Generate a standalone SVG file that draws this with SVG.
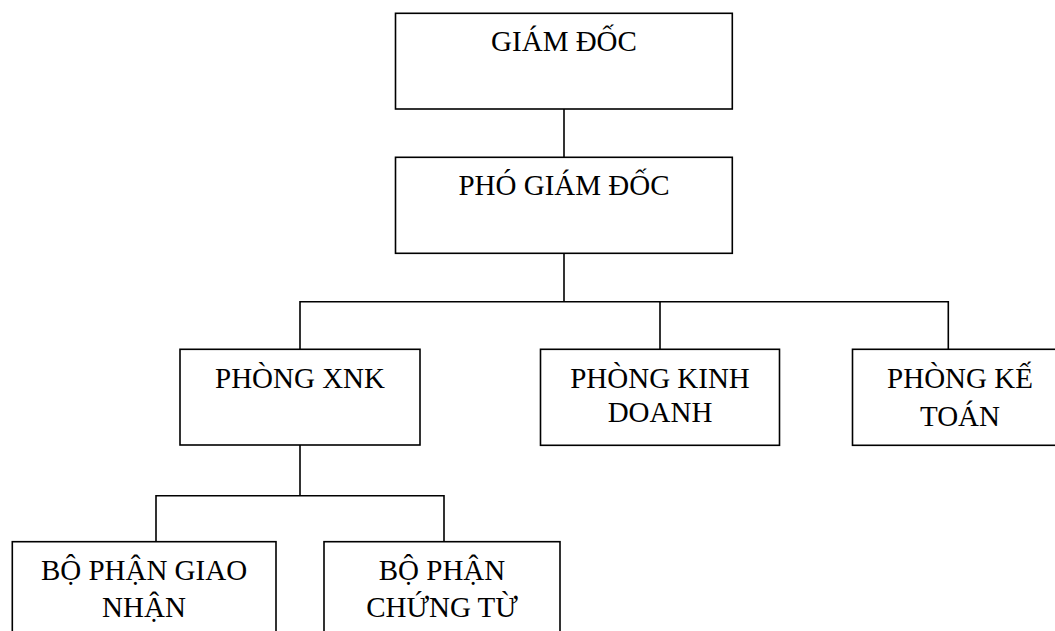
<svg xmlns="http://www.w3.org/2000/svg" width="1055" height="631" viewBox="0 0 1055 631">
<style>
.box{fill:#fff;stroke:#000;stroke-width:1.6}
.con{fill:none;stroke:#000;stroke-width:1.6}
.t{font-family:'Liberation Serif','Times New Roman',serif;font-size:29px;fill:#000;text-anchor:middle}
</style>
<rect width="1055" height="631" fill="#fff"/>
<g id="connectors">
<path class="con" d="M564 109V157.3"/>
<path class="con" d="M564 253.3V301.7"/>
<path class="con" d="M300 349.3V301.7H948.3V349.3"/>
<path class="con" d="M660 301.7V349.3"/>
<path class="con" d="M300 445V495.7"/>
<path class="con" d="M156 541.7V495.7H444V541.7"/>
</g>
<g id="giam-doc">
<rect class="box" x="395.5" y="13.3" width="336.8" height="95.7"/>
<text class="t" x="564" y="51">GIÁM ĐỐC</text>
</g>
<g id="pho-giam-doc">
<rect class="box" x="395.5" y="157.3" width="336.8" height="96"/>
<text class="t" x="564" y="195">PHÓ GIÁM ĐỐC</text>
</g>
<g id="phong-xnk">
<rect class="box" x="180" y="349.3" width="240" height="95.7"/>
<text class="t" x="300" y="388">PHÒNG XNK</text>
</g>
<g id="phong-kinh-doanh">
<rect class="box" x="540.5" y="349.3" width="239" height="96"/>
<text class="t" x="660" y="388">PHÒNG KINH</text>
<text class="t" x="660" y="422">DOANH</text>
</g>
<g id="phong-ke-toan">
<rect class="box" x="852.5" y="349.3" width="240" height="96"/>
<text class="t" x="960" y="388">PHÒNG KẾ</text>
<text class="t" x="960" y="426">TOÁN</text>
</g>
<g id="bo-phan-giao-nhan">
<rect class="box" x="12.3" y="541.7" width="263.7" height="120"/>
<text class="t" x="144" y="580">BỘ PHẬN GIAO</text>
<text class="t" x="144" y="617">NHẬN</text>
</g>
<g id="bo-phan-chung-tu">
<rect class="box" x="324" y="541.7" width="236" height="120"/>
<text class="t" x="442" y="580">BỘ PHẬN</text>
<text class="t" x="442" y="617">CHỨNG TỪ</text>
</g>
</svg>
